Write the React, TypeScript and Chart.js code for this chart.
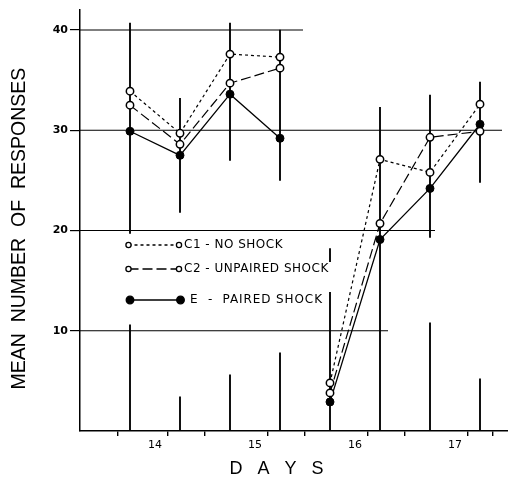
import React, { useEffect, useRef } from 'react';
import { Chart, registerables } from 'chart.js';

Chart.register(...registerables);

// ---- data ----
const sessions = [13.75, 14.25, 14.75, 15.25, 15.75, 16.25, 16.75, 17.25];
const dayLabels = [14, 15, 16, 17];
const yTickValues = [10, 20, 30, 40];
const c1NoShock = [33.9, 29.7, 37.6, 37.3, 4.8, 27.1, 25.8, 32.6];
const c2UnpairedShock = [32.5, 28.6, 34.7, 36.2, 3.8, 20.7, 29.3, 29.9];
const ePairedShock = [29.9, 27.5, 33.6, 29.2, 2.9, 19.1, 24.2, 30.6];
const breakAfterIndex = 3;
const lowerBarTops = [10.6, 3.4, 5.6, 7.8, 18.2, 32.3, 10.8, 5.2];
const upperRangeLow = [19.7, 21.8, 27.0, 25.0, null, null, 19.3, 24.8];
const upperRangeHigh = [40.7, 33.2, 40.7, 40.0, null, null, 33.5, 34.8];
const refLineValues = [10, 20, 30, 40];
const refLineEnds = [16.33, 16.8, 17.47, 15.48];
const seriesLabels = ['C1 - NO SHOCK', 'C2 - UNPAIRED SHOCK', 'E  -  PAIRED SHOCK'];
const xTitle = 'D   A   Y   S       ';
const yTitle = 'MEAN  NUMBER  OF  RESPONSES   ';
const xMin = 13.25;
const xMax = 17.53;
const yMin = 0;
const yMax = 42;

const FONT = '"DejaVu Sans", sans-serif';
const TITLE_FONT = '"Liberation Sans", Arial, sans-serif';

function seriesPoints(vals: number[]) {
  const pts: any[] = [];
  vals.forEach((y, i) => {
    pts.push({ x: sessions[i], y });
    if (i === breakAfterIndex) pts.push({ x: (sessions[i] + sessions[i + 1]) / 2, y: null });
  });
  return pts;
}

function refPoints() {
  const pts: any[] = [];
  refLineValues.forEach((v, i) => {
    pts.push({ x: xMin, y: v }, { x: refLineEnds[i], y: v }, { x: refLineEnds[i], y: null });
  });
  return pts;
}

const legendPlugin = {
  id: 'sampleLegend',
  afterDraw(chart: any) {
    const ctx = chart.ctx as CanvasRenderingContext2D;
    const ds = chart.data.datasets;
    ctx.save();
    ctx.fillStyle = '#fff';
    ctx.fillRect(118, 234, 209, 89);
    ctx.fillRect(326, 262, 7, 30);
    const rows = [
      { i: 0, y: 245, x1: 128.5, x2: 179, r: 2.6, tx: 184, ls: 0.5 },
      { i: 1, y: 269, x1: 128.5, x2: 179, r: 2.6, tx: 184, ls: 0.5 },
      { i: 2, y: 300, x1: 130, x2: 180.5, r: 3.8, tx: 190, ls: 0.9 },
    ];
    rows.forEach((row) => {
      const d = ds[row.i];
      ctx.strokeStyle = '#000';
      ctx.lineWidth = 1.3;
      ctx.setLineDash(d.borderDash || []);
      ctx.beginPath();
      ctx.moveTo(row.x1, row.y);
      ctx.lineTo(row.x2, row.y);
      ctx.stroke();
      ctx.setLineDash([]);
      [row.x1, row.x2].forEach((cx) => {
        ctx.beginPath();
        ctx.arc(cx, row.y, row.r, 0, Math.PI * 2);
        ctx.fillStyle = d.pointBackgroundColor;
        ctx.fill();
        ctx.lineWidth = 1.3;
        ctx.stroke();
      });
      ctx.fillStyle = '#000';
      ctx.font = '12px ' + FONT;
      (ctx as any).letterSpacing = row.ls + 'px';
      ctx.textBaseline = 'middle';
      ctx.textAlign = 'left';
      ctx.fillText(d.label, row.tx, row.y);
    });
    ctx.restore();
  },
};

export default function App() {
  const ref = useRef<HTMLCanvasElement | null>(null);
  useEffect(() => {
    if (!ref.current) return;
    const chart = new Chart(ref.current, {
      type: 'line',
      data: {
        datasets: [
          {
            label: seriesLabels[0],
            data: seriesPoints(c1NoShock),
            borderColor: '#000',
            borderWidth: 1.2,
            borderDash: [3, 3],
            pointRadius: 3.7,
            pointBorderWidth: 1.5,
            pointBackgroundColor: '#fff',
            pointBorderColor: '#000',
            spanGaps: false,
            tension: 0,
          },
          {
            label: seriesLabels[1],
            data: seriesPoints(c2UnpairedShock),
            borderColor: '#000',
            borderWidth: 1.2,
            borderDash: [10, 4],
            pointRadius: 3.7,
            pointBorderWidth: 1.5,
            pointBackgroundColor: '#fff',
            pointBorderColor: '#000',
            spanGaps: false,
            tension: 0,
          },
          {
            label: seriesLabels[2],
            data: seriesPoints(ePairedShock),
            borderColor: '#000',
            borderWidth: 1.3,
            pointRadius: 4,
            pointBorderWidth: 1,
            pointBackgroundColor: '#000',
            pointBorderColor: '#000',
            spanGaps: false,
            tension: 0,
          },
          {
            type: 'bar',
            label: 'upper ranges',
            data: sessions
              .map((x, i) => (upperRangeLow[i] == null ? null : { x, y: [upperRangeLow[i], upperRangeHigh[i]] }))
              .filter(Boolean) as any,
            backgroundColor: '#000',
            borderWidth: 0,
            barThickness: 1.2,
            grouped: false,
          } as any,
          {
            type: 'bar',
            label: 'lower bars',
            data: sessions.map((x, i) => ({ x, y: [0, lowerBarTops[i]] })) as any,
            backgroundColor: '#000',
            borderWidth: 0,
            barThickness: 1.2,
            grouped: false,
          } as any,
          {
            label: 'reference lines',
            data: refPoints(),
            borderColor: '#000',
            borderWidth: 1.1,
            pointRadius: 0,
            spanGaps: false,
            tension: 0,
          },
        ],
      },
      options: {
        responsive: false,
        animation: false,
        layout: { autoPadding: false, padding: { top: 10, left: 0, right: 0, bottom: 0 } },
        plugins: { legend: { display: false }, tooltip: { enabled: false } },
        scales: {
          x: {
            type: 'linear',
            min: xMin,
            max: xMax,
            offset: false,
            afterBuildTicks: (s: any) => {
              s.ticks = [...sessions, ...dayLabels].sort((a, b) => a - b).map((v) => ({ value: v }));
            },
            ticks: {
              autoSkip: false,
              maxRotation: 0,
              padding: 3,
              color: '#000',
              font: { family: FONT, size: 11 },
              callback: (v: any) => (dayLabels.includes(Number(v)) ? String(v) : ''),
            },
            grid: {
              drawOnChartArea: false,
              drawTicks: true,
              tickLength: 5,
              lineWidth: 1.4,
              color: (c: any) => (c.tick && dayLabels.includes(c.tick.value) ? 'rgba(0,0,0,0)' : '#000'),
            },
            border: { display: true, color: '#000', width: 1.5 },
            title: {
              display: true,
              text: xTitle,
              color: '#000',
              font: { family: TITLE_FONT, size: 18, lineHeight: 1 },
              padding: { top: 0, bottom: 0.5 },
            },
            afterFit: (s: any) => {
              s.height = 48;
              s.paddingLeft = 0;
              s.paddingRight = 0;
            },
          },
          y: {
            type: 'linear',
            min: yMin,
            max: yMax,
            afterBuildTicks: (s: any) => {
              s.ticks = yTickValues.map((v) => ({ value: v }));
            },
            ticks: { color: '#000', font: { family: FONT, size: 11, weight: 'bold' }, padding: 2 },
            grid: { drawOnChartArea: false, drawTicks: true, tickLength: 10, color: '#000', lineWidth: 1.2 },
            border: { display: true, color: '#000', width: 1.5 },
            title: {
              display: true,
              text: yTitle,
              color: '#000',
              font: { family: TITLE_FONT, size: 19.5, lineHeight: 1.2 },
              padding: { top: 8, bottom: 0 },
            },
            afterFit: (s: any) => {
              s.width = 80;
              s.paddingTop = 0;
              s.paddingBottom = 0;
            },
          },
        },
      } as any,
      plugins: [legendPlugin],
    });
    return () => chart.destroy();
  }, []);
  return (
    <div style={{ position: 'absolute', left: 0, top: 0, width: 508, height: 479, background: '#fff' }}>
      <canvas ref={ref} width={508} height={479} style={{ width: 508, height: 479, display: 'block' }} />
    </div>
  );
}
